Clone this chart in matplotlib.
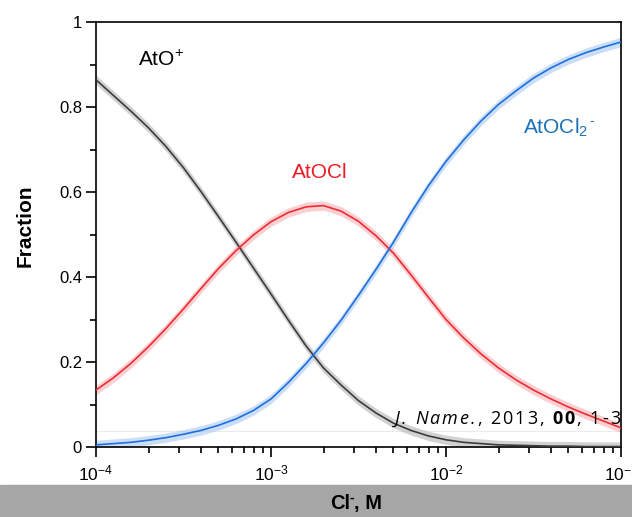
import matplotlib

matplotlib.use("Agg")
import matplotlib.pyplot as plt
import numpy as np
from matplotlib.ticker import FixedLocator, LogLocator, NullFormatter

plt.rcParams["font.family"] = ["Liberation Sans", "DejaVu Sans"]
plt.rcParams["mathtext.fontset"] = "custom"
plt.rcParams["mathtext.rm"] = "Liberation Sans"
plt.rcParams["mathtext.it"] = "Liberation Sans:italic"
plt.rcParams["mathtext.bf"] = "Liberation Sans:bold"

# log10 of [Cl-] (M), one reading every 0.1 decade
LOG_CL = [-4.0, -3.9, -3.8, -3.7, -3.6, -3.5, -3.4, -3.3, -3.2, -3.1, -3.0,
          -2.9, -2.8, -2.7, -2.6, -2.5, -2.4, -2.3, -2.2, -2.1, -2.0,
          -1.9, -1.8, -1.7, -1.6, -1.5, -1.4, -1.3, -1.2, -1.1, -1.0]
ATO = [0.864, 0.827, 0.790, 0.751, 0.707, 0.657, 0.601, 0.542, 0.482, 0.421, 0.360,
       0.298, 0.238, 0.186, 0.146, 0.109, 0.080, 0.056, 0.039, 0.026, 0.017,
       0.011, 0.008, 0.005, 0.004, 0.003, 0.002, 0.002, 0.001, 0.001, 0.001]
ATOCL = [0.134, 0.163, 0.197, 0.236, 0.279, 0.325, 0.373, 0.420, 0.462, 0.499, 0.530,
         0.552, 0.565, 0.568, 0.555, 0.531, 0.497, 0.456, 0.405, 0.352, 0.300,
         0.257, 0.219, 0.186, 0.158, 0.134, 0.113, 0.094, 0.077, 0.061, 0.045]
ATOCL2 = [0.005, 0.008, 0.011, 0.016, 0.022, 0.030, 0.039, 0.051, 0.066, 0.086, 0.113,
          0.152, 0.196, 0.245, 0.298, 0.357, 0.418, 0.482, 0.551, 0.615, 0.672,
          0.722, 0.767, 0.806, 0.838, 0.868, 0.892, 0.912, 0.928, 0.941, 0.953]

SPECIES = [
    # values, line colour, band colour, label, label colour, label x (log), label y
    (ATO, "#3c3c3c", "#b4b4b4", "AtO$^{+}$", "#000000", -3.76, 0.91),
    (ATOCL, "#ee2c34", "#f6b0b3", "AtOCl", "#ee1c25", -2.72, 0.647),
    (ATOCL2, "#1f6fdc", "#a9c9f2", "AtOCl$_{2}$", "#1b72ba", -1.56, 0.75),
]
BAND = 0.011

fig = plt.figure(figsize=(6.32, 5.17), dpi=100)
ax = fig.add_axes([96 / 632, 1 - 447 / 517, 525 / 632, 425 / 517])

x = 10 ** np.array(LOG_CL)
labels = []
for vals, col, band, label, lcol, lx, ly in SPECIES:
    v = np.array(vals)
    ax.fill_between(x, v - BAND, v + BAND, color=band, alpha=0.6, lw=0, zorder=2)
    ax.plot(x, v, color=col, lw=1.2, zorder=3)
    ha = "center" if label == "AtOCl" else "left"
    labels.append(ax.text(10 ** lx, ly, label, color=lcol, fontsize=15, ha=ha, va="center"))

# faint rule from the page layout
ax.axhline(0.037, color="#efe9e9", lw=0.8, zorder=1)

ax.set_xscale("log")
ax.set_xlim(1e-4, 1e-1)
ax.set_ylim(0, 1)
ax.xaxis.set_minor_locator(LogLocator(base=10, subs=np.arange(2, 10)))
ax.xaxis.set_minor_formatter(NullFormatter())
ax.yaxis.set_major_locator(FixedLocator([0, 0.2, 0.4, 0.6, 0.8, 1.0]))
ax.yaxis.set_minor_locator(FixedLocator([0.1, 0.3, 0.5, 0.7, 0.9]))
ax.set_yticklabels(["0", "0.2", "0.4", "0.6", "0.8", "1"])
ax.tick_params(which="both", direction="out", top=False, right=False, width=1.2)
ax.tick_params(which="major", length=7)
ax.tick_params(which="minor", length=4)
ax.tick_params(axis="y", labelsize=12, pad=3)
ax.tick_params(axis="x", labelsize=12.5, pad=5)
for s in ax.spines.values():
    s.set_linewidth(1.2)

fig.text(25 / 632, 1 - 226 / 517, "Fraction", fontsize=15, fontweight="bold",
         rotation=90, ha="center", va="center")

# grey bar with the x-axis title
fig.patches.append(plt.Rectangle((0, 0), 1, 32 / 517, transform=fig.transFigure,
                                 color="#a6a6a6", zorder=0))

fig.canvas.draw()
r = fig.canvas.get_renderer()

# short superscript dash after the AtOCl2 subscript
bb = labels[2].get_window_extent(r)
fig.text((bb.x1 + 1) / 632, (bb.y1 - 8) / 517, "-", fontsize=10, color="#1b72ba",
         va="baseline")

# "Cl⁻, M" built from pieces so the superscript is a short dash
base_y = 1 - 509 / 517
cl = fig.text(330 / 632, base_y, "Cl", fontsize=14.5, fontweight="bold", va="baseline")
xp = 330 + cl.get_window_extent(r).width
sup = fig.text(xp / 632, base_y + 7 / 517, "-", fontsize=10, fontweight="bold", va="baseline")
xp += sup.get_window_extent(r).width
fig.text(xp / 632, base_y, ", M", fontsize=14.5, fontweight="bold", va="baseline")

# journal running footer, drawn letter by letter with loose tracking
pieces = [("J. Name.", "italic", "normal"), (", 2013, ", "normal", "normal"),
          ("00", "normal", "bold"), (", 1-3", "normal", "normal")]
xpos = 395
for txt, style, weight in pieces:
    for ch in txt:
        t = fig.text(xpos / 632, 1 - 424 / 517, ch, fontsize=13, family="Open Sans",
                     style=style, weight=weight, ha="left", va="baseline")
        w = t.get_window_extent(r).width if ch != " " else 4.5
        xpos += w + 2.0

fig.savefig("out.png", dpi=100)
